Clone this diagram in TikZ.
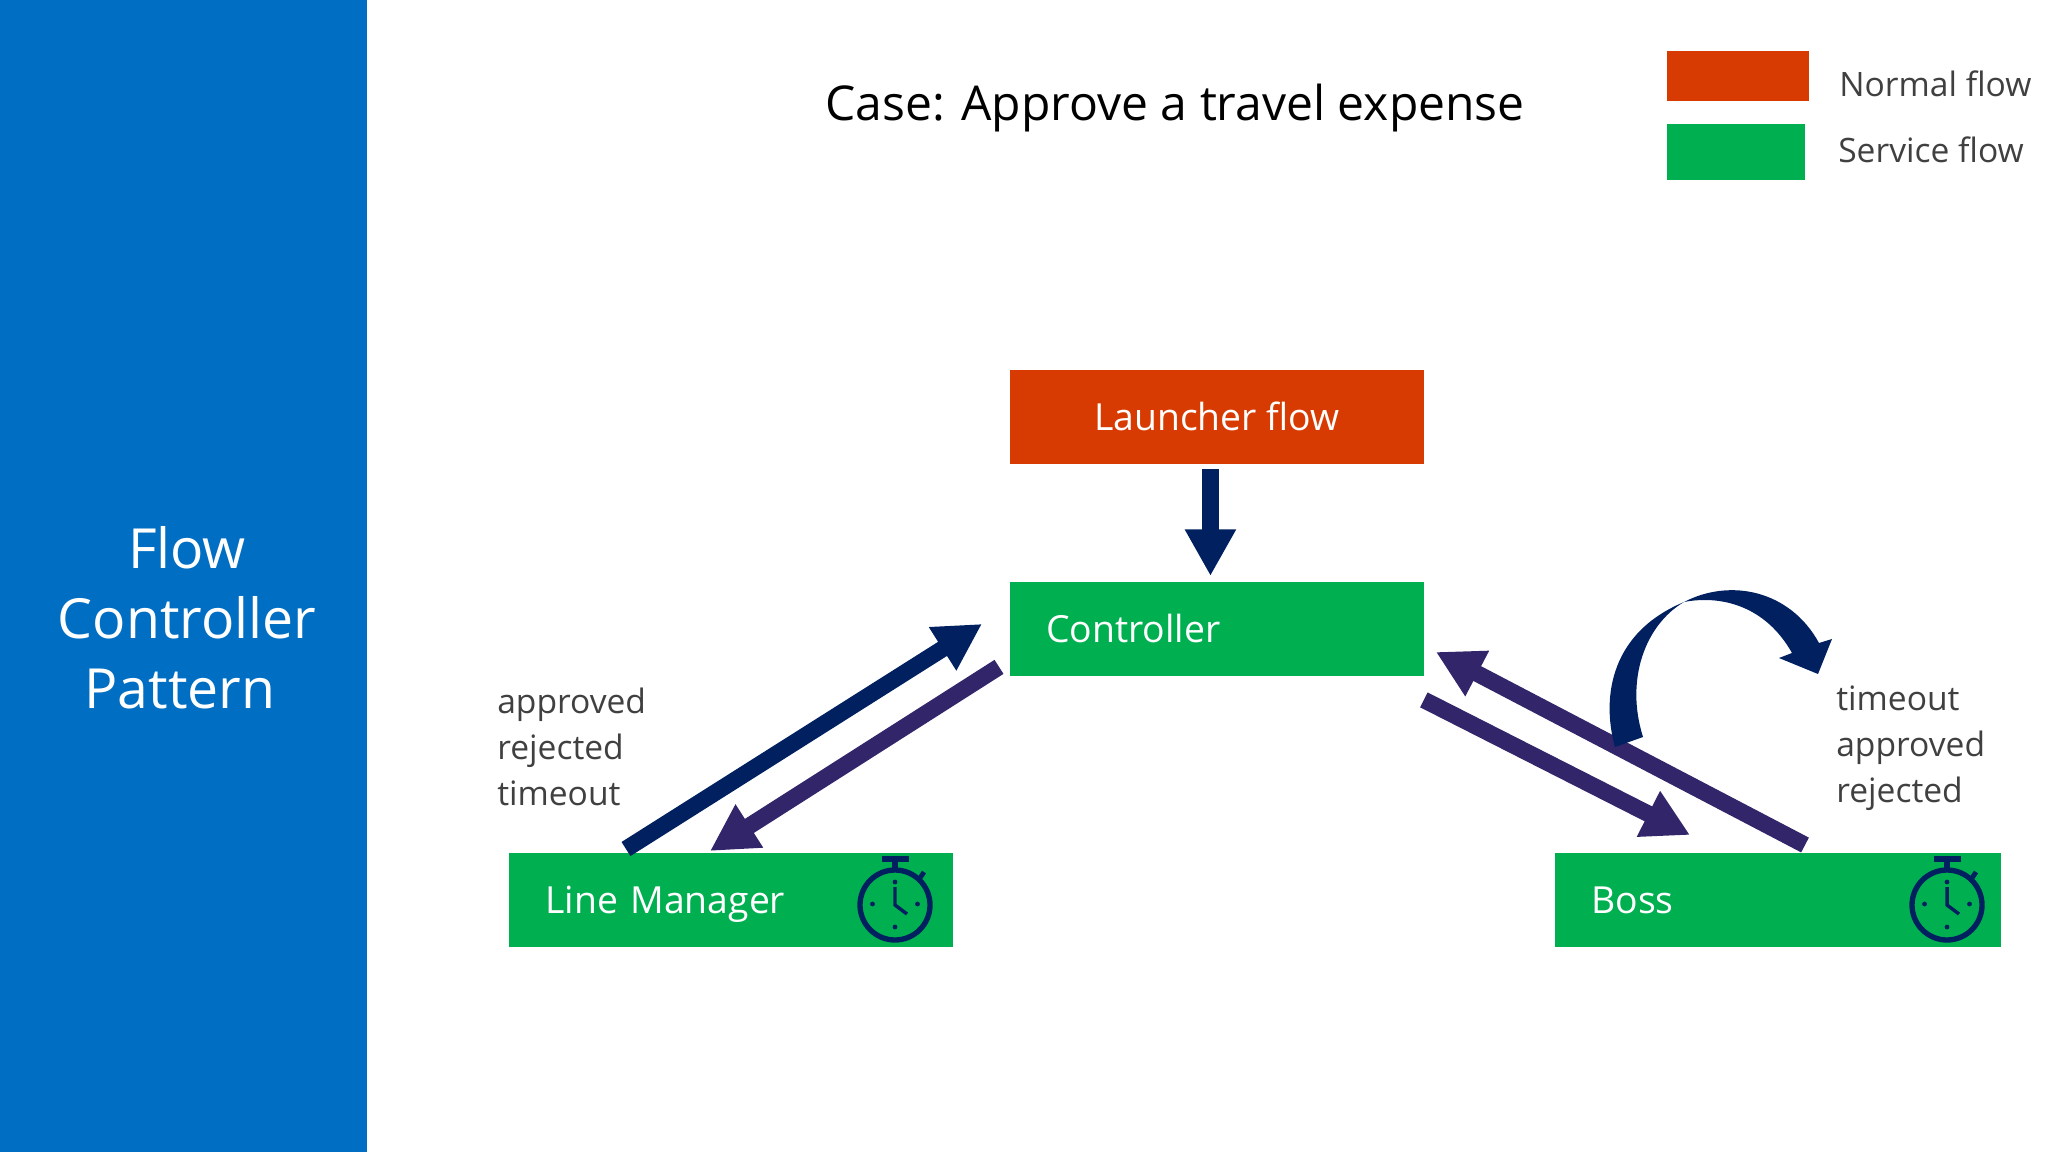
\documentclass[tikz,border=0pt]{standalone}
\usepackage{fontspec}
\setmainfont{Open Sans}
\usetikzlibrary{arrows.meta}
\definecolor{sidebarblue}{HTML}{006FC3}
\definecolor{normalred}{HTML}{D83B01}
\definecolor{servicegreen}{HTML}{00B050}
\definecolor{arrownavy}{HTML}{002060}
\definecolor{arrowpurple}{HTML}{32256A}
\definecolor{labelgray}{HTML}{404040}

\begin{document}
\begin{tikzpicture}[x=0.75pt, y=-0.75pt,
    flowbox/.style={anchor=north west, inner xsep=27pt, inner ysep=0pt, minimum height=70pt,
        align=left, text=white, text height=20pt, text depth=0pt, font=\fontsize{28}{32}\selectfont},
    legendbox/.style={anchor=north west, inner sep=0pt},
    label/.style={anchor=west, inner sep=0pt, align=left, text=labelgray,
        font=\fontsize{25.2}{34.5}\selectfont},
    sidetitle/.style={text=white, font=\fontsize{41.5}{48}\selectfont},
    navyarrow/.style={draw=arrownavy, line width=12.5pt,
        -{Triangle[length=35pt, width=36pt, fill=arrownavy]}},
    purplearrow/.style={draw=arrowpurple, line width=12.5pt,
        -{Triangle[length=35pt, width=36pt, fill=arrowpurple]}}]
    \useasboundingbox (0,0) rectangle (2048,1152);

    % Sidebar
    \fill[sidebarblue] (0,0) rectangle (367,1152);
    \node[sidetitle] (flowtitle) at (187,548) {Flow};
    \node[sidetitle] (controllertitle) at (187,618) {Controller};
    \node[sidetitle] (patterntitle) at (180,689) {Pattern};

    % Title
    \node[font=\fontsize{36}{42}\selectfont] (casetitle) at (1175,108) {Case: Approve a travel expense};

    % Legend
    \node[legendbox, fill=normalred, minimum width=106.5pt, minimum height=37pt] (normalkey) at (1667,51) {};
    \node[legendbox, fill=servicegreen, minimum width=103.5pt, minimum height=42pt] (servicekey) at (1667,124) {};
    \node[label] (normaltext) at (1839,84) {Normal flow};
    \node[label] (servicetext) at (1838,150) {Service flow};

    % Flows
    \node[flowbox, fill=normalred, minimum width=310pt, inner xsep=0pt, align=center] (launcher) at (1010,370) {Launcher flow};
    \node[flowbox, fill=servicegreen, text width=256pt] (controller) at (1010,582) {Controller};
    \node[flowbox, fill=servicegreen, text width=279pt] (linemanager) at (509,853) {Line Manager};
    \node[flowbox, fill=servicegreen, text width=280.5pt] (boss) at (1555,853) {Boss};

    % Labels
    \node[label] (leftlabel) at (497,747) {approved\\rejected\\timeout};
    \node[label] (rightlabel) at (1836,748) {timeout\\approved\\rejected};

    % Straight arrows
    \draw[navyarrow] ([shift={(-6.5,5)}]launcher.south) -- ([shift={(-6.5,-6)}]controller.north);
    \draw[navyarrow] ([shift={(117,-4)}]linemanager.north west) -- ([shift={(-28,-5)}]controller.west);
    \draw[purplearrow] ([shift={(-11,-9)}]controller.south west) -- ([shift={(201,-2)}]linemanager.north west);
    \draw[purplearrow] ([shift={(250,-8)}]boss.north west) -- ([shift={(12,23)}]controller.east);
    \draw[purplearrow] ([shift={(0,24)}]controller.south east) -- ([shift={(135,-18)}]boss.north west);

    % Curved timeout arrow
    \fill[arrownavy] (1615,747) .. controls (1603,705) and (1605,635) .. (1684,602)
        .. controls (1730,578) and (1790,590) .. (1819,643)
        -- (1832,639) -- (1818,674) -- (1779,658) -- (1792,653)
        .. controls (1765,605) and (1720,595) .. (1684,602)
        .. controls (1645,625) and (1625,680) .. (1643,737) -- cycle;

    % Stopwatches
    \foreach \cx in {895,1947}{
        \draw[arrownavy, line width=4pt] (\cx,905) circle (35);
        \fill[arrownavy] (\cx-13.5,856) rectangle (\cx+13.5,862);
        \fill[arrownavy] (\cx-3,862) rectangle (\cx+3,871);
        \draw[arrownavy, line width=3.6pt] (\cx+25,878) -- (\cx+29,872);
        \draw[arrownavy, line width=2.6pt] (\cx,887) -- (\cx,905) -- (\cx+12,914);
        \foreach \dx/\dy in {0/-23,-22.5/-1,22.5/-1,0/22}{
            \fill[arrownavy] (\cx+\dx,905+\dy) circle (2.4);
        }
    }
\end{tikzpicture}
\end{document}
